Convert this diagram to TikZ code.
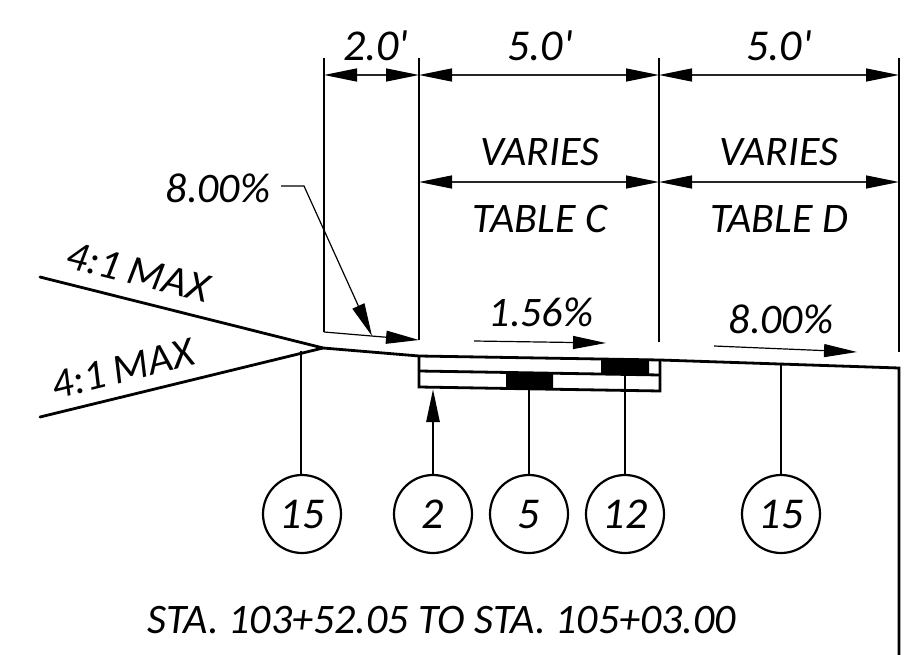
\documentclass[tikz,border=0pt]{standalone}
\usepackage{fontspec}
\setmainfont{Carlito}[Ligatures=TeXOff]
\usetikzlibrary{arrows.meta}
\tikzset{
  x=1pt,y=-1pt,
  lbl/.style={font=\itshape\fontsize{42}{42}\selectfont,inner sep=0pt,anchor=base,text=black},
  big/.style={font=\itshape\fontsize{44}{44}\selectfont},
  ext/.style={line width=1.4pt,black},
  thick line/.style={line width=2.8pt,black,line cap=round},
  dim/.style={line width=1.4pt,black!85,{Triangle[length=33pt,width=13pt,black]}-{Triangle[length=33pt,width=13pt,black]}},
  lead/.style={line width=1.2pt,black,-{Triangle[length=33pt,width=13pt,black]}},
  callout/.style={circle,draw=black,line width=2.2pt,minimum size=78pt,inner sep=0pt,text height=28pt,text depth=0pt},
  stem/.style={line width=2.8pt,black},
}
\begin{document}
\begin{tikzpicture}
\useasboundingbox (0,0) rectangle (915,655);
% key points
\coordinate (e1t) at (324,58); \coordinate (e1b) at (324,332);
\coordinate (e2t) at (419,58); \coordinate (e2b) at (419,340);
\coordinate (e3t) at (659,58); \coordinate (e3b) at (659,342);
\coordinate (e4t) at (899,58); \coordinate (e4b) at (899,352);
\coordinate (d1) at (324,75); \coordinate (d2) at (419,75); \coordinate (d3) at (659,75); \coordinate (d4) at (899,75);
\coordinate (v2) at (419,182); \coordinate (v3) at (659,182); \coordinate (v4) at (899,182);
\coordinate (hinge) at (323,348); \coordinate (boxTL) at (419,356); \coordinate (boxTR) at (660,360);
\coordinate (roadEnd) at (899,368); \coordinate (wallEnd) at (899,655);
\coordinate (slopeU) at (40,277); \coordinate (slopeL) at (40,417);
\coordinate (boxML) at (419,371); \coordinate (boxMR) at (660,375);
\coordinate (boxBL) at (419,387); \coordinate (boxBR) at (660,391);
% layers
\fill[black] (601,358) -- (649,359) -- (649,375) -- (601,374) -- cycle;
\fill[black] (506,372) -- (553,373) -- (553,389) -- (506,388.5) -- cycle;
\draw[thick line,line cap=butt] (boxTL) -- (boxBL) -- (boxBR) -- (boxTR);
\draw[thick line,line cap=butt] (boxML) -- (boxMR);
% surface
\draw[thick line] (slopeU) -- (hinge) -- (boxTL) -- (boxTR) -- (roadEnd) -- (wallEnd);
\draw[thick line] (slopeL) -- (hinge);
% extension lines
\draw[ext] (e1t) -- (e1b);
\draw[ext] (e2t) -- (e2b);
\draw[ext] (e3t) -- (e3b);
\draw[ext] (e4t) -- (e4b);
% dimensions
\draw[dim] (d1) -- (d2);
\draw[dim] (d2) -- (d3);
\draw[dim] (d3) -- (d4);
\draw[dim] (v2) -- (v3);
\draw[dim] (v3) -- (v4);
% slope arrows
\draw[lead] (e1b) -- (e2b);
\coordinate (a1) at (474,341); \coordinate (a2) at (606,343);
\coordinate (b1) at (714,346); \coordinate (b2) at (857,352);
\draw[lead] (a1) -- (a2);
\draw[lead] (b1) -- (b2);
% texts
\node[lbl,big] (t20) at (376,61) {2.0'};
\node[lbl,big] (t50a) at (540,61) {5.0'};
\node[lbl,big] (t50b) at (779,61) {5.0'};
\node[lbl] (tva) at (540,166) {VARIES};
\node[lbl] (tvb) at (779,166) {VARIES};
\node[lbl] (ttc) at (540,233) {TABLE C};
\node[lbl] (ttd) at (779,233) {TABLE D};
\node[lbl] (t8a) at (218,203) {8.00\%};
\node[lbl] (t156) at (541,326) {1.56\%};
\node[lbl] (t8b) at (781,333) {8.00\%};
\node[lbl,rotate=-14] (tma) at (135,285) {4:1 MAX};
\node[lbl,rotate=14] (tmb) at (126,382) {4:1 MAX};
\node[lbl] (tsta) at (442,633) {STA. 103+52.05 TO STA. 105+03.00};
% 8% leader
\coordinate (la) at (281,186); \coordinate (lb) at (304,186); \coordinate (lc) at (372,336);
\draw[lead] (la) -- (lb) -- (lc);
% callouts
\node[callout,lbl,big,anchor=center] (c15a) at (302,514) {15};
\node[callout,lbl,big,anchor=center] (c2) at (433,514) {2};
\node[callout,lbl,big,anchor=center] (c5) at (529,514) {5};
\node[callout,lbl,big,anchor=center] (c12) at (625,514) {12};
\node[callout,lbl,big,anchor=center] (c15b) at (781,514) {15};
\coordinate (s15a) at (301,351); \coordinate (s2) at (433,389); \coordinate (s5) at (529,389); \coordinate (s12) at (625,375); \coordinate (s15b) at (781,364);
\draw[stem] (c15a.north -| s15a) -- (s15a);
\draw[stem,-{Triangle[length=33pt,width=13pt,black]}] (c2) ++(0,-39) -- (s2);
\draw[stem] (c5.north) -- (s5);
\draw[stem] (c12.north) -- (s12);
\draw[stem] (c15b.north) -- (s15b);
\end{tikzpicture}
\end{document}
